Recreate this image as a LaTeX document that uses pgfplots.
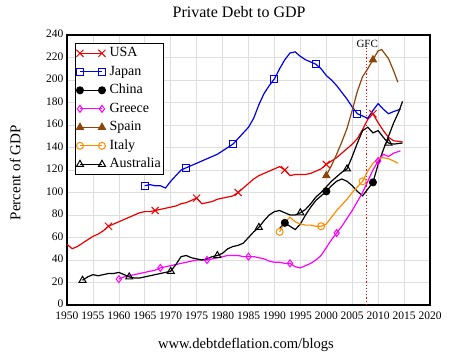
\documentclass[border=0pt]{standalone}
\usepackage{pgfplots}
\pgfplotsset{compat=1.18}
\usepackage{fontspec}
\setmainfont{Liberation Serif}
\definecolor{cusa}{RGB}{235,0,0}
\definecolor{cjap}{RGB}{0,0,230}
\definecolor{cgre}{RGB}{255,0,255}
\definecolor{cspa}{RGB}{140,70,10}
\definecolor{cita}{RGB}{255,140,0}
\begin{document}
\begin{tikzpicture}
\begin{axis}[
  at={(0,0)}, anchor=south west,
  scale only axis, width=363pt, height=270pt,
  xmin=1950, xmax=2020, ymin=0, ymax=240,
  xtick distance=5, ytick distance=20,
  major tick length=0pt,
  grid=major,
  grid style={line width=0.6pt, draw=black!13},
  axis line style={line width=1.3pt},
  /pgf/number format/assume math mode=true,
  x tick label style={/pgf/number format/1000 sep={}, font=\fontsize{11.5}{12}\selectfont, yshift=-3pt},
  y tick label style={font=\fontsize{11.5}{12}\selectfont, yshift=1pt},
  title={Private Debt to GDP},
  title style={at={(axis description cs:0.474,1.063)}, anchor=center, font=\fontsize{16}{18}\selectfont},
  xlabel={www.debtdeflation.com/blogs},
  xlabel style={at={(axis description cs:0.493,-0.148)}, anchor=center, font=\fontsize{14.6}{16}\selectfont},
  ylabel={Percent of GDP},
  ylabel style={at={(axis description cs:-0.143,0.49)}, anchor=center, rotate=0, font=\fontsize{15}{16}\selectfont},
  legend style={at={(axis description cs:0.022,0.97)}, anchor=north west, draw=black, line width=0.9pt,
    font=\fontsize{14}{15}\selectfont, inner sep=1pt, row sep=1pt, column sep=2pt,
    nodes={inner sep=2pt, text height=10pt, text depth=3.5pt}, cells={anchor=west}},
  legend image code/.code={\draw[#1,mark indices={1,2}] plot coordinates {(0pt,0pt) (22pt,0pt)};},
  every axis plot/.append style={line width=1.2pt, mark options={solid, line width=1pt}},
]
% USA
\addplot[cusa, mark=x, mark size=5pt, mark indices={9,18,26,34,43,51,60}] coordinates {
(1950,54)(1951,50)(1952,52)(1953,55)(1954,58)(1955,61)(1956,63)(1957,66)(1958,70)(1959,72)
(1960,74)(1961,76)(1962,78)(1963,80)(1964,82)(1965,83)(1966,83)(1967,84)(1968,85)(1969,86)
(1970,87)(1971,88)(1972,90)(1973,91)(1974,93)(1975,95)(1976,90)(1977,91)(1978,92)(1979,94)
(1980,95)(1981,96)(1982,97)(1983,100)(1984,104)(1985,108)(1986,112)(1987,115)(1988,117)(1989,119)
(1990,121)(1991,123)(1992,120)(1993,115)(1994,116)(1995,116)(1996,116)(1997,117)(1998,119)(1999,121)
(2000,125)(2001,128)(2002,131)(2003,135)(2004,139)(2005,143)(2006,148)(2007,156)(2008,165)(2009,170)
(2010,162)(2011,155)(2012,149)(2013,146)(2014.7,145)};
\addlegendentry{USA}
% Japan
\addplot[cjap, mark=square, mark size=3.5pt, mark indices={1,9,18,26,34,42}] coordinates {
(1965,106)(1966,107)(1967,106)(1968,106)(1969,104)(1970,110)(1971,115)(1972,120)(1973,122)(1974,124)
(1975,126)(1976,128)(1977,130)(1978,132)(1979,134)(1980,137)(1981,140)(1982,143)(1983,148)(1984,153)
(1985,158)(1986,166)(1987,178)(1988,188)(1989,195)(1990,201)(1991,210)(1992,218)(1993,224)(1994,225)
(1995,221)(1996,218)(1997,216)(1998,214)(1999,210)(2000,204)(2001,200)(2002,195)(2003,189)(2004,183)
(2005,176)(2006,170)(2007,168)(2008,166)(2009,173)(2010,179)(2011,174)(2012,170)(2013,172)(2014.3,174)};
\addlegendentry{Japan}
% China
\addplot[black, mark=*, mark size=3.5pt, mark indices={2,10,19}] coordinates {
(1991,68)(1992,73)(1993,70)(1994,67)(1995,72)(1996,80)(1997,87)(1998,93)(1999,97)(2000,101)
(2001,106)(2002,110)(2003,112)(2004,110)(2005,106)(2006,101)(2007,97)(2008,103)(2009,109)(2010,125)
(2011,138)(2012,150)(2013,162)(2014,172)(2014.7,181)};
\addlegendentry{China}
% Greece
\addplot[cgre, mark=diamond, mark size=3.5pt, mark indices={1,9,18,26,34,43,51}] coordinates {
(1960,23)(1961,25)(1962,26)(1963,27)(1964,28)(1965,29)(1966,30)(1967,31)(1968,33)(1969,34)
(1970,35)(1971,36)(1972,37)(1973,38)(1974,39)(1975,40)(1976,40)(1977,40)(1978,41)(1979,42)
(1980,43)(1981,44)(1982,44)(1983,44)(1984,43)(1985,43)(1986,43)(1987,42)(1988,41)(1989,39)
(1990,38)(1991,38)(1992,37)(1993,37)(1994,34)(1995,33)(1996,35)(1997,37)(1998,40)(1999,44)
(2000,51)(2001,58)(2002,64)(2003,70)(2004,77)(2005,84)(2006,92)(2007,100)(2008,110)(2009,120)
(2010,128)(2011,134)(2012,132)(2013,135)(2014.3,137)};
\addlegendentry{Greece}
% Spain
\addplot[cspa, mark=triangle*, mark size=4pt, mark indices={1,10}] coordinates {
(2000,115)(2001,124)(2002,134)(2003,145)(2004,157)(2005,173)(2006,190)(2007,203)(2008,210)(2009,218)
(2010,226)(2010.7,227)(2012,219)(2013,208)(2013.8,198)};
\addlegendentry{Spain}
% Italy
\addplot[cita, mark=o, mark size=3.5pt, mark indices={1,9,17}] coordinates {
(1991,65)(1992,74)(1993,78)(1994,74)(1995,72)(1996,71)(1997,71)(1998,70)(1999,70)(2000,72)
(2001,78)(2002,84)(2003,89)(2004,94)(2005,100)(2006,105)(2007,110)(2008,119)(2009,126)(2010,130)
(2011,131)(2012,130)(2013,128)(2013.8,126)};
\addlegendentry{Italy}
% Australia
\addplot[black, mark=triangle, mark size=4pt, mark indices={1,10,18,27,35,43,52,60}] coordinates {
(1953,22)(1954,25)(1955,27)(1956,26)(1957,27)(1958,28)(1959,28)(1960,29)(1961,27)(1962,25)
(1963,24)(1964,24)(1965,25)(1966,26)(1967,27)(1968,28)(1969,29)(1970,30)(1971,36)(1972,43)
(1973,44)(1974,42)(1975,41)(1976,40)(1977,41)(1978,43)(1979,44)(1980,46)(1981,50)(1982,52)
(1983,53)(1984,55)(1985,60)(1986,65)(1987,69)(1988,75)(1989,80)(1990,83)(1991,84)(1992,82)
(1993,80)(1994,80)(1995,82)(1996,85)(1997,90)(1998,96)(1999,100)(2000,105)(2001,110)(2002,114)
(2003,118)(2004,121)(2005,132)(2006,144)(2007,155)(2008,158)(2009,153)(2010,155)(2011,149)(2012,144)
(2013,143)(2014.7,144)};
\addlegendentry{Australia}
% GFC line
\addplot[red, dotted, line width=0.7pt, mark=none, forget plot] coordinates {(2007.7,0)(2007.7,229)};
\node[anchor=south, font=\fontsize{11}{12}\selectfont, inner sep=1pt] at (axis cs:2007.9,228) {GFC};
\end{axis}
\path[use as bounding box] (-67pt,-55pt) rectangle (383pt,305pt);
\end{tikzpicture}
\end{document}
